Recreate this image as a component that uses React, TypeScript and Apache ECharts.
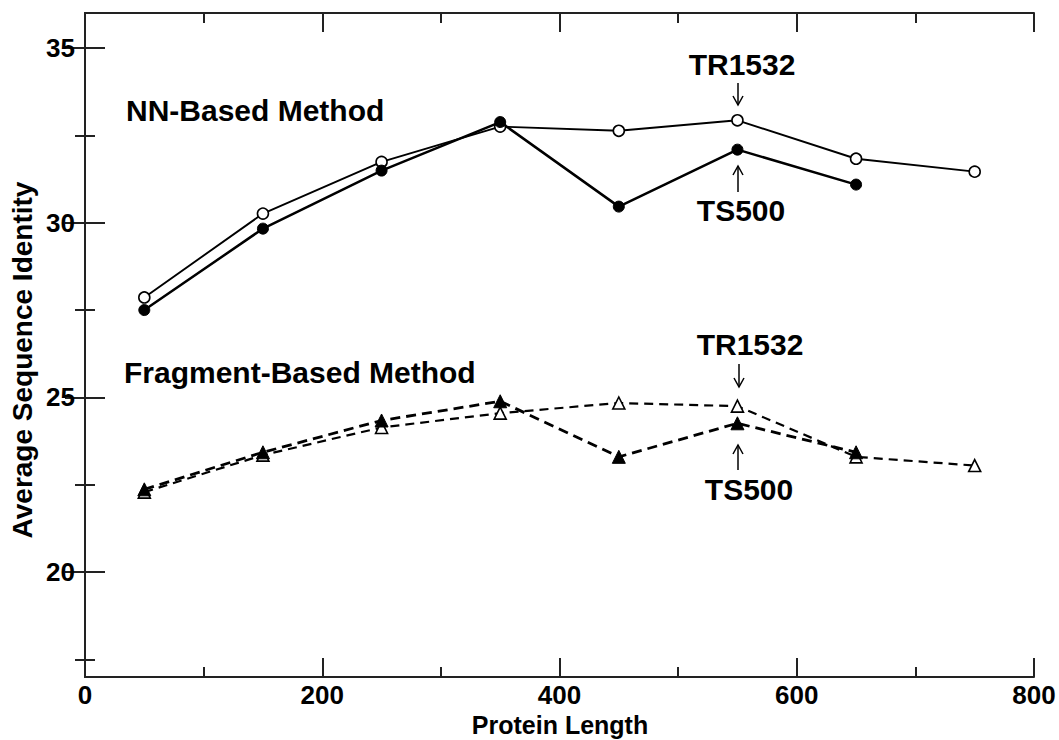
import React, { useEffect, useRef } from "react";
import * as echarts from "echarts";

const lengths = [50, 150, 250, 350, 450, 550, 650, 750];
const nnTR1532 = [27.86, 30.26, 31.74, 32.75, 32.63, 32.93, 31.83, 31.46];
const nnTS500 = [27.5, 29.83, 31.49, 32.88, 30.46, 32.09, 31.09];
const fragTR1532 = [22.29, 23.35, 24.14, 24.55, 24.84, 24.75, 23.3, 23.05];
const fragTS500 = [22.37, 23.43, 24.34, 24.89, 23.3, 24.26, 23.43];

const yMajor = [20, 25, 30, 35];
const yMinor = [17.5, 22.5, 27.5, 32.5];

const FONT = "'Liberation Sans', Arial, Helvetica, sans-serif";
const INK = "#000";

function pairs(xs: number[], ys: number[]) {
  return ys.map((y, i) => [xs[i], y]);
}

export default function App() {
  const ref = useRef<HTMLDivElement>(null);
  useEffect(() => {
    if (!ref.current) return;
    const chart = echarts.init(ref.current, undefined, { renderer: "svg" });
    const axisLine = { show: true, lineStyle: { color: "#222", width: 2 } };
    const baseX = {
      type: "value" as const,
      min: 0,
      max: 800,
      splitLine: { show: false },
    };
    const baseY = {
      type: "value" as const,
      min: 17,
      max: 36,
      splitLine: { show: false },
    };
    const arrowDown = (x: number, y1: number, y2: number) => [
      { type: "line", shape: { x1: x, y1, x2: x, y2 }, style: { stroke: INK, lineWidth: 1.5 } },
      { type: "polyline", shape: { points: [[x - 5, y2 - 9], [x, y2], [x + 5, y2 - 9]] }, style: { stroke: INK, lineWidth: 1.5, fill: "none" } },
    ];
    const arrowUp = (x: number, y1: number, y2: number) => [
      { type: "line", shape: { x1: x, y1, x2: x, y2 }, style: { stroke: INK, lineWidth: 1.5 } },
      { type: "polyline", shape: { points: [[x - 5, y1 + 9], [x, y1], [x + 5, y1 + 9]] }, style: { stroke: INK, lineWidth: 1.5, fill: "none" } },
    ];
    const label = (text: string, x: number, y: number, size: number, align = "center") => ({
      type: "text",
      x,
      y,
      style: {
        text,
        font: `bold ${size}px ${FONT}`,
        fill: INK,
        align,
        verticalAlign: "middle",
        lineHeight: Math.round(size * 0.8),
      },
    });
    const tickLabel = {
      margin: 8,
      color: INK,
      fontFamily: FONT,
      fontWeight: "bold",
      fontSize: 26,
      lineHeight: 20,
    };
    chart.setOption({
      animation: false,
      backgroundColor: "#fff",
      grid: { left: 85, right: 25, top: 13, bottom: 63, containLabel: false },
      xAxis: [
        {
          ...baseX,
          position: "bottom",
          interval: 200,
          axisLine,
          axisTick: { show: true, inside: true, length: 19, lineStyle: { color: "#222", width: 2 } },
          axisLabel: { show: true, ...tickLabel },
        },
        {
          ...baseX,
          position: "bottom",
          interval: 100,
          axisLine: { show: false },
          axisTick: { show: true, inside: true, length: 10, lineStyle: { color: "#222", width: 2 } },
          axisLabel: { show: false },
        },
        {
          ...baseX,
          position: "top",
          interval: 200,
          axisLine,
          axisTick: { show: true, inside: true, length: 19, lineStyle: { color: "#222", width: 2 } },
          axisLabel: { show: false },
        },
        {
          ...baseX,
          position: "top",
          interval: 100,
          axisLine: { show: false },
          axisTick: { show: true, inside: true, length: 10, lineStyle: { color: "#222", width: 2 } },
          axisLabel: { show: false },
        },
      ],
      yAxis: [
        {
          ...baseY,
          position: "left",
          axisLine,
          axisTick: { show: true, inside: true, length: 20, customValues: yMajor, lineStyle: { color: "#222", width: 2 } },
          axisLabel: { show: true, customValues: yMajor, ...tickLabel, margin: 10 },
        },
        {
          ...baseY,
          position: "left",
          axisLine: { show: false },
          axisTick: { show: true, inside: true, length: 10, customValues: yMinor, lineStyle: { color: "#222", width: 2 } },
          axisLabel: { show: false },
        },
        {
          ...baseY,
          position: "right",
          axisLine,
          axisTick: { show: true, inside: true, length: 20, customValues: yMajor, lineStyle: { color: "#222", width: 2 } },
          axisLabel: { show: false },
        },
        {
          ...baseY,
          position: "right",
          axisLine: { show: false },
          axisTick: { show: true, inside: true, length: 10, customValues: yMinor, lineStyle: { color: "#222", width: 2 } },
          axisLabel: { show: false },
        },
      ],
      series: [
        {
          name: "NN TR1532",
          type: "line",
          data: pairs(lengths, nnTR1532),
          symbol: "circle",
          symbolSize: 11,
          showAllSymbol: true,
          lineStyle: { color: INK, width: 1.9 },
          itemStyle: { color: "#fff", borderColor: INK, borderWidth: 1.6 },
          z: 3,
        },
        {
          name: "NN TS500",
          type: "line",
          data: pairs(lengths, nnTS500),
          symbol: "circle",
          symbolSize: 11,
          lineStyle: { color: INK, width: 2.5 },
          itemStyle: { color: INK, borderColor: INK, borderWidth: 1 },
          z: 4,
        },
        {
          name: "Fragment TR1532",
          type: "line",
          data: pairs(lengths, fragTR1532),
          symbol: "triangle",
          symbolSize: 12,
          lineStyle: { color: INK, width: 2.2, type: [9, 6] },
          itemStyle: { color: "#fff", borderColor: INK, borderWidth: 1.6 },
          z: 3,
        },
        {
          name: "Fragment TS500",
          type: "line",
          data: pairs(lengths, fragTS500),
          symbol: "triangle",
          symbolSize: 13,
          lineStyle: { color: INK, width: 2.8, type: [10, 6] },
          itemStyle: { color: INK, borderColor: INK, borderWidth: 1 },
          z: 4,
        },
      ],
      graphic: [
        label("NN-Based Method", 126, 110, 30, "left"),
        label("Fragment-Based Method", 124, 372, 30, "left"),
        label("TR1532", 742, 64, 30),
        ...arrowDown(738, 83, 105),
        label("TS500", 741, 210, 30),
        ...arrowUp(738, 166, 192),
        label("TR1532", 750, 344, 30),
        ...arrowDown(739, 364, 387),
        label("TS500", 749, 489, 30),
        ...arrowUp(738, 445, 470),
        label("Protein Length", 560, 725, 25),
        {
          type: "text",
          x: 22,
          y: 360,
          rotation: Math.PI / 2,
          style: {
            text: "Average Sequence Identity",
            font: `bold 28px ${FONT}`,
            fill: INK,
            align: "center",
            verticalAlign: "middle",
          },
        },
      ],
    });
    return () => chart.dispose();
  }, []);
  return (
    <div
      ref={ref}
      style={{ position: "fixed", left: 0, top: 0, width: 1059, height: 740, background: "#fff" }}
    />
  );
}
